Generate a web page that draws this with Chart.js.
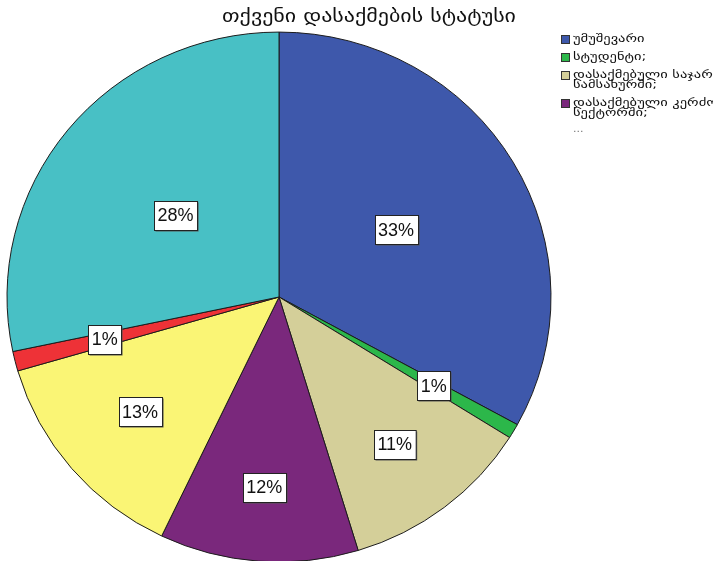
<!DOCTYPE html>
<html>
<head>
<meta charset="utf-8">
<script src="https://cdn.jsdelivr.net/npm/chart.js@4.4.0/dist/chart.umd.min.js"></script>
<style>
  html, body { margin: 0; padding: 0; background: #fff; }
  #wrap { width: 713px; height: 561px; position: relative; }
</style>
</head>
<body>
<div id="wrap"><canvas id="c" width="713" height="561"></canvas></div>
<script>
const chartTitle = 'თქვენი დასაქმების სტატუსი';
const categories = [
  'უმუშევარი',
  'სტუდენტი;',
  'დასაქმებული საჯარო სამსახურში;',
  'დასაქმებული კერძო სექტორში;',
  'თვითდასაქმებული;',
  'პენსიონერი;',
  'სხვა'
];
const shares = [33.0, 0.9, 11.4, 11.8, 13.4, 1.2, 28.3];
const sliceColors = ['#3e58ab', '#2cb74a', '#d4cf99', '#7a287c', '#faf575', '#ee3237', '#48c0c5'];

const FONT_GEO = '"DejaVu Sans", "Noto Sans", sans-serif';
const FONT_NUM = '"Liberation Sans", Arial, sans-serif';

const ellipsePlugin = {
  id: 'ellipse',
  beforeDatasetsDraw(chart, args, opts) {
    const arc = chart.getDatasetMeta(0).data[0];
    const ctx = chart.ctx;
    ctx.save();
    ctx.translate(arc.x, arc.y);
    ctx.scale(1, opts.scaleY);
    ctx.translate(-arc.x, -arc.y);
  },
  afterDatasetsDraw(chart, args, opts) {
    const ctx = chart.ctx;
    ctx.restore();
    const meta = chart.getDatasetMeta(0);
    const data = chart.data.datasets[0].data;
    const total = data.reduce((a, b) => a + b, 0);
    ctx.save();
    ctx.font = '18px ' + FONT_NUM;
    ctx.textAlign = 'center';
    ctx.textBaseline = 'middle';
    meta.data.forEach((arc, i) => {
      const mid = (arc.startAngle + arc.endAngle) / 2;
      const f = opts.labelRadius[i];
      const lx = arc.x + Math.cos(mid) * arc.outerRadius * f;
      const ly = arc.y + Math.sin(mid) * arc.outerRadius * f * opts.scaleY;
      const txt = Math.round(data[i] / total * 100) + '%';
      const w = ctx.measureText(txt).width + 7;
      const h = 29;
      const bx = Math.round(lx - w / 2) + 0.5, by = Math.round(ly - h / 2) + 0.5;
      ctx.fillStyle = '#555';
      ctx.fillRect(bx + 1, by + 1, w, h);
      ctx.fillStyle = '#fff';
      ctx.fillRect(bx, by, w, h);
      ctx.strokeStyle = '#222';
      ctx.lineWidth = 1;
      ctx.strokeRect(bx, by, w, h);
      ctx.fillStyle = '#111';
      ctx.fillText(txt, lx, ly + 1);
    });
    ctx.restore();
  }
};

function scaledText(ctx, txt, x, y, sx) {
  ctx.save();
  ctx.translate(x, y);
  ctx.scale(sx, 1);
  ctx.fillText(txt, 0, 0);
  ctx.restore();
}

const decorPlugin = {
  id: 'decor',
  afterDraw(chart, args, opts) {
    const ctx = chart.ctx;
    ctx.save();
    // title
    ctx.font = opts.titleSize + 'px ' + FONT_GEO;
    ctx.fillStyle = '#111';
    ctx.textAlign = 'center';
    ctx.textBaseline = 'middle';
    const tsx = opts.titleWidth / ctx.measureText(chartTitle).width;
    scaledText(ctx, chartTitle, opts.titleX, opts.titleY, tsx);
    // legend
    ctx.font = opts.legendSize + 'px ' + FONT_GEO;
    ctx.textAlign = 'left';
    const sx = opts.legendScaleX;
    let y = opts.legendY;
    const labels = chart.data.labels;
    for (let i = 0; i < opts.legendCount; i++) {
      const words = labels[i].split(' ');
      const lines = [];
      let cur = '';
      words.forEach(wd => {
        const t = cur ? cur + ' ' + wd : wd;
        if (cur && ctx.measureText(t).width * sx > opts.wrapWidth) { lines.push(cur); cur = wd; }
        else cur = t;
      });
      if (cur) lines.push(cur);
      const bx = opts.legendX + 0.5, by = Math.round(y - 4) + 0.5;
      ctx.fillStyle = sliceColors[i];
      ctx.fillRect(bx, by, 8, 8);
      ctx.strokeStyle = '#333';
      ctx.lineWidth = 1;
      ctx.strokeRect(bx, by, 8, 8);
      ctx.fillStyle = '#111';
      lines.forEach((ln, k) => {
        scaledText(ctx, ln, opts.legendX + 12, y + k * 10, sx);
      });
      y += (lines.length - 1) * 10 + 18;
    }
    ctx.fillStyle = '#777';
    ctx.fillText('...', opts.legendX + 12, y - 2);
    ctx.restore();
  }
};

new Chart(document.getElementById('c'), {
  type: 'pie',
  data: {
    labels: categories,
    datasets: [{
      data: shares,
      backgroundColor: sliceColors,
      borderColor: '#1a1a1a',
      borderWidth: 1,
      radius: 272
    }]
  },
  options: {
    responsive: false,
    animation: false,
    events: [],
    layout: { padding: { top: 33, bottom: 0, left: 0, right: 155 } },
    plugins: {
      legend: { display: false },
      title: { display: false },
      tooltip: { enabled: false },
      ellipse: { scaleY: 0.974, labelRadius: [0.5, 0.66, 0.7, 0.72, 0.67, 0.66, 0.49] },
      decor: {
        titleX: 369, titleY: 17, titleSize: 18, titleWidth: 294,
        legendX: 561, legendY: 39, legendCount: 4, legendSize: 11, legendScaleX: 1.32, wrapWidth: 160
      }
    }
  },
  plugins: [ellipsePlugin, decorPlugin]
});
</script>
</body>
</html>
